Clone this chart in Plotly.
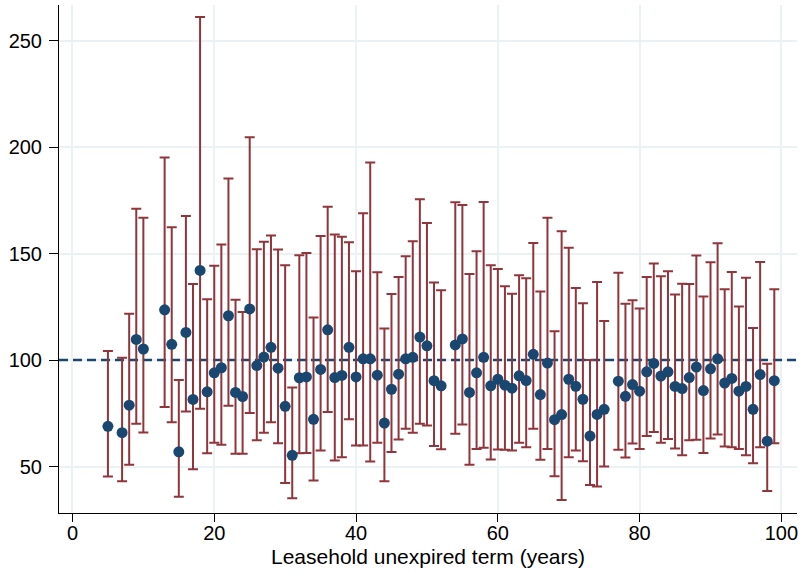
import plotly.graph_objects as go

term_years = [5, 7, 8, 9, 10, 13, 14, 15, 16, 17, 18, 19, 20, 21, 22, 23, 24, 25, 26, 27,
              28, 29, 30, 31, 32, 33, 34, 35, 36, 37, 38, 39, 40, 41, 42, 43, 44, 45, 46, 47,
              48, 49, 50, 51, 52, 54, 55, 56, 57, 58, 59, 60, 61, 62, 63, 64, 65, 66, 67, 68,
              69, 70, 71, 72, 73, 74, 75, 77, 78, 79, 80, 81, 82, 83, 84, 85, 86, 87, 88, 89,
              90, 91, 92, 93, 94, 95, 96, 97, 98, 99]

estimate = [68.9, 65.9, 78.8, 109.7, 105.2, 123.6, 107.4, 56.9, 113.0, 81.5, 142.1, 85.1, 94.0, 96.4, 120.8, 84.8, 82.9, 124.0, 97.4, 101.4,
            106.0, 96.2, 78.3, 55.3, 91.7, 92.1, 72.2, 95.6, 114.2, 91.8, 92.8, 106.0, 92.1, 100.6, 100.6, 92.9, 70.4, 86.3, 93.4, 100.6,
            101.3, 110.8, 106.7, 90.3, 87.9, 107.1, 109.9, 84.8, 94.0, 101.3, 87.9, 91.0, 88.2, 86.8, 92.6, 90.4, 102.7, 83.8, 98.6, 72.0,
            74.4, 91.0, 87.7, 81.6, 64.3, 74.5, 76.9, 90.1, 83.0, 88.5, 85.4, 94.5, 98.4, 92.5, 94.5, 87.6, 86.6, 91.8, 96.7, 85.7,
            95.9, 100.6, 89.2, 91.4, 85.4, 87.6, 76.9, 93.2, 61.9, 90.3]

upper = [104.2, 101.1, 121.7, 171.1, 166.8, 195.1, 162.3, 90.6, 167.6, 135.7, 261.1, 128.6, 144.3, 154.2, 185.2, 128.3, 122.6, 204.6, 152.0, 155.5,
         158.5, 151.9, 144.5, 87.1, 149.2, 150.3, 120.0, 158.2, 172.0, 159.0, 157.9, 155.3, 141.7, 168.9, 192.8, 141.2, 114.8, 131.0, 139.0, 148.7,
         155.8, 175.5, 164.3, 136.4, 132.8, 174.1, 172.8, 140.4, 151.1, 174.2, 144.5, 142.8, 134.6, 131.1, 139.8, 138.4, 155.0, 132.2, 166.8, 113.5,
         160.5, 152.7, 133.8, 126.7, 100.0, 136.6, 118.4, 141.0, 126.4, 128.1, 124.2, 139.0, 145.3, 139.3, 141.7, 130.8, 135.8, 135.7, 149.1, 129.9,
         145.9, 154.9, 133.2, 141.3, 125.2, 138.7, 115.1, 146.1, 98.3, 133.3]

lower = [45.3, 43.1, 50.9, 70.1, 66.0, 78.0, 70.8, 35.8, 75.9, 48.7, 77.2, 56.3, 61.2, 60.2, 78.6, 56.0, 56.0, 75.1, 62.3, 65.9,
         70.8, 61.0, 42.3, 35.1, 56.3, 56.4, 43.4, 57.5, 75.6, 52.8, 54.4, 72.2, 59.9, 59.9, 52.4, 61.2, 43.1, 56.8, 62.7, 67.8,
         65.9, 70.1, 69.3, 59.6, 58.1, 65.4, 69.8, 50.8, 58.3, 58.8, 53.3, 58.0, 57.9, 57.5, 61.2, 59.1, 67.8, 53.2, 58.2, 45.4,
         34.3, 54.4, 57.5, 52.5, 41.4, 40.7, 50.0, 57.9, 54.2, 60.8, 58.3, 64.3, 66.2, 61.2, 63.0, 58.5, 55.3, 62.3, 62.6, 56.4,
         63.2, 65.1, 59.4, 59.1, 58.3, 55.3, 51.6, 59.1, 38.5, 61.0]

x_ticks = [0, 20, 40, 60, 80, 100]
y_ticks = [50, 100, 150, 200, 250]
x_range = [-1.9, 102.2]
y_range = [28.2, 266.7]
reference_level = 100
x_title = "Leasehold unexpired term (years)"

NAVY = "#1a476f"
MAROON = "#90353b"
GRID = "#eaf2f3"
FONT = "Liberation Sans, Arial, sans-serif"

err_plus = [u - e for u, e in zip(upper, estimate)]
err_minus = [e - l for e, l in zip(estimate, lower)]

fig = go.Figure()
# horizontal reference line (drawn first so it sits beneath the estimates)
fig.add_trace(go.Scatter(
    x=x_range, y=[reference_level, reference_level], mode="lines",
    line=dict(color=NAVY, width=2.5, dash="9px,5px"),
    hoverinfo="skip", showlegend=False, cliponaxis=True,
))
fig.add_trace(go.Scatter(
    x=term_years, y=estimate, mode="markers",
    marker=dict(color=NAVY, size=11, line=dict(width=0)),
    error_y=dict(type="data", symmetric=False, array=err_plus, arrayminus=err_minus,
                 color=MAROON, thickness=2, width=5),
    showlegend=False,
))

fig.add_annotation(text=x_title, xref="paper", yref="paper", x=0.5, y=-0.0866,
                   xanchor="center", yanchor="middle", showarrow=False,
                   font=dict(family=FONT, size=21, color="black"))

fig.update_layout(
    width=802, height=571,
    margin=dict(l=59, r=5, t=5, b=58, autoexpand=False),
    paper_bgcolor="white", plot_bgcolor="white",
    font=dict(family=FONT, size=20, color="black"),
    showlegend=False,
)
fig.update_xaxes(
    range=x_range, tickvals=x_ticks, ticktext=[str(v) for v in x_ticks],
    showgrid=True, gridcolor=GRID, gridwidth=1.5, zeroline=False,
    showline=True, linecolor="black", linewidth=1,
    ticks="outside", ticklen=8, tickcolor="black", tickwidth=1,
    tickfont=dict(size=20), ticklabelstandoff=-6, automargin=False,
)
fig.update_yaxes(
    range=y_range, tickvals=y_ticks, ticktext=[str(v) for v in y_ticks],
    showgrid=True, gridcolor=GRID, gridwidth=1.5, zeroline=False,
    showline=True, linecolor="black", linewidth=1,
    ticks="outside", ticklen=9, tickcolor="black", tickwidth=1,
    tickfont=dict(size=20), ticklabelstandoff=3, automargin=False,
)

fig.write_html("out.html", config={"displayModeBar": False},
               post_script="document.body.style.margin='0';document.body.style.padding='0';")
